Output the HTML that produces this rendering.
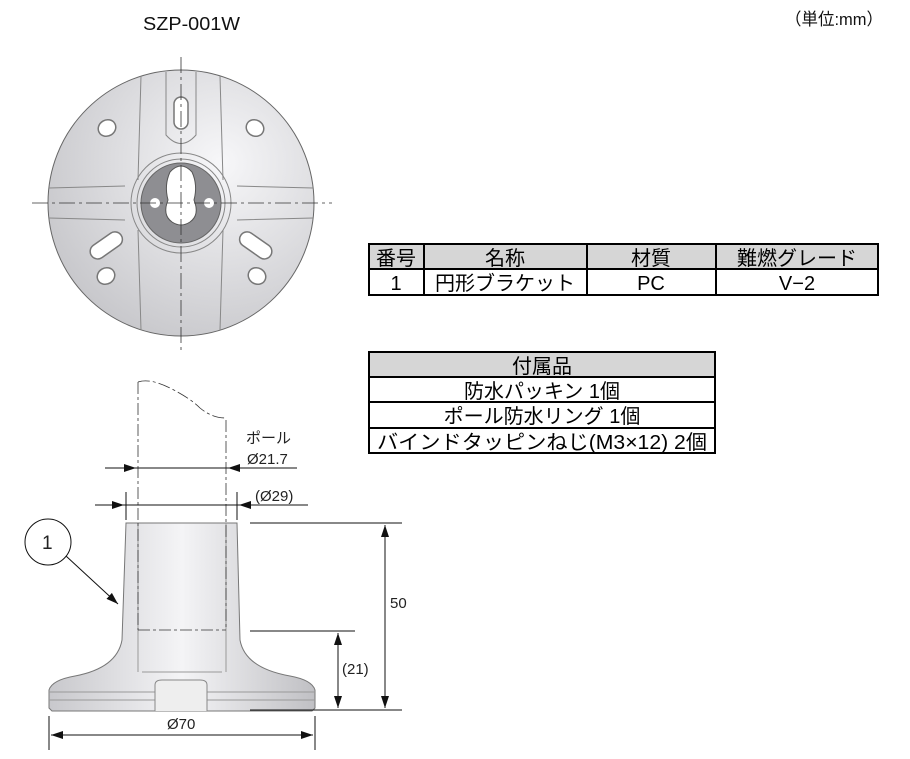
<!DOCTYPE html>
<html><head><meta charset="utf-8"><style>
body{margin:0;background:#fff;width:910px;height:754px;overflow:hidden}
svg text{font-family:"Liberation Sans","Noto Sans CJK JP",sans-serif}
</style></head><body>
<svg width="910" height="754" viewBox="0 0 910 754" xmlns="http://www.w3.org/2000/svg">
<defs>
<radialGradient id="g1" cx="0.65" cy="0.35" r="0.8"><stop offset="0" stop-color="#f7f7f9"/><stop offset="1" stop-color="#c2c2c6"/></radialGradient>
<linearGradient id="g2" x1="0" x2="1"><stop offset="0" stop-color="#c8c8cc"/><stop offset="0.5" stop-color="#f4f4f6"/><stop offset="1" stop-color="#c0c0c4"/></linearGradient>
<marker id="ar" markerWidth="12" markerHeight="8" refX="12" refY="4" orient="auto" markerUnits="userSpaceOnUse"><path d="M0,0L12,4L0,8z" fill="#111"/></marker>
</defs>
<text x="143" y="30" font-size="18" fill="#111" textLength="97" lengthAdjust="spacingAndGlyphs">SZP-001W</text>
<text x="785" y="25" font-size="17" fill="#111" textLength="98" lengthAdjust="spacingAndGlyphs">（単位:mm）</text>

<!-- top view -->
<circle cx="181" cy="203" r="133" fill="url(#g1)" stroke="#666" stroke-width="1"/>
<g fill="none" stroke="#888" stroke-width="1">
<path d="M141,76 L138,180 M220,76 L223,180 M141,330 L138,230 M220,330 L223,230"/>
<path d="M49,188 L125,186 M49,218 L125,220 M313,188 L237,186 M313,218 L237,220"/>
<path d="M166,72 L166,135 Q181,152 196,135 L196,72"/>
<circle cx="181" cy="203" r="50"/><circle cx="181" cy="203" r="44"/>
</g>
<circle cx="181" cy="203" r="40" fill="#8e8e92" stroke="#666"/>
<path d="M170,172 Q181,160 192,172 Q198,185 194,200 Q200,215 190,222 Q181,228 172,222 Q162,215 168,200 Q164,185 170,172z" fill="#fff" stroke="#555"/>
<circle cx="155" cy="203" r="5" fill="#fff"/><circle cx="209" cy="203" r="5" fill="#fff"/>
<g fill="#fff" stroke="#777" stroke-width="1.5">
<rect x="174" y="97" width="14" height="32" rx="7"/>
<ellipse cx="107" cy="128" rx="9" ry="8" transform="rotate(-30 107 128)"/>
<ellipse cx="255" cy="128" rx="9" ry="8" transform="rotate(30 255 128)"/>
<rect x="88" y="238" width="36" height="15" rx="7.5" transform="rotate(-35 106 245)"/>
<rect x="238" y="238" width="36" height="15" rx="7.5" transform="rotate(35 256 245)"/>
<ellipse cx="106" cy="276" rx="9" ry="8" transform="rotate(-30 106 276)"/>
<ellipse cx="257" cy="276" rx="9" ry="8" transform="rotate(30 257 276)"/>
</g>
<g stroke="#333" stroke-width="0.8" stroke-dasharray="16,4,3,4" fill="none">
<path d="M32,203 L332,203 M181,57 L181,350"/>
</g>

<!-- table 1 -->
<g font-size="20" fill="#000" text-anchor="middle">
<rect x="369" y="244" width="509" height="25" fill="#d6d6d6"/>
<rect x="369" y="244" width="509" height="51" fill="none" stroke="#000" stroke-width="2"/>
<path d="M369,269H878M424,244V295M587,244V295M716,244V295" stroke="#000" stroke-width="2"/>
<text x="396" y="265">番号</text><text x="505" y="265">名称</text><text x="651" y="265">材質</text><text x="797" y="265">難燃グレード</text>
<text x="396" y="290">1</text><text x="505" y="290">円形ブラケット</text><text x="651" y="290">PC</text><text x="797" y="290">V−2</text>
<!-- table 2 -->
<rect x="369" y="352" width="346" height="25" fill="#d6d6d6"/>
<rect x="369" y="352" width="346" height="101" fill="none" stroke="#000" stroke-width="2"/>
<path d="M369,377H715M369,402H715M369,428H715" stroke="#000" stroke-width="2"/>
<text x="542" y="373">付属品</text><text x="542" y="398">防水パッキン 1個</text><text x="542" y="423">ポール防水リング 1個</text><text x="542" y="449" textLength="330" lengthAdjust="spacingAndGlyphs">バインドタッピンねじ(M3×12) 2個</text>
</g>

<!-- side view -->
<path d="M126,523 L237,523 L240,640 Q245,668 290,676 Q312,680 315,690 L315,708 L312,711 L52,711 L49,708 L49,690 Q52,680 75,676 Q117,668 122,640 Z" fill="url(#g2)" stroke="#777"/>
<path d="M49,692H315M49,700H315M138,523V672M226,523V672M142,672H222" stroke="#999" fill="none"/>
<path d="M155,711V685Q155,680 162,680H200Q207,680 207,685V711" fill="#eee" stroke="#888"/>
<g stroke="#333" stroke-width="0.8" stroke-dasharray="12,3,3,3" fill="none">
<path d="M138,382V630M226,420V630M138,630H226"/>
<path d="M138,382 Q150,378 170,388 Q190,398 200,408 Q212,418 226,418"/>
</g>
<g stroke="#111" stroke-width="1" fill="none">
<path d="M105,468H136" marker-end="url(#ar)"/><path d="M297,468H228" marker-end="url(#ar)"/><path d="M136,468H228"/>
<path d="M95,505H124" marker-end="url(#ar)"/><path d="M308,505H239" marker-end="url(#ar)"/><path d="M124,505H239"/>
<path d="M126,492V520M237,492V520"/>
<path d="M250,523H402M250,710H402M250,631H355M49,716V750M315,716V750"/>
<path d="M385,600V525" marker-end="url(#ar)"/><path d="M385,600V708" marker-end="url(#ar)"/>
<path d="M338,670V633" marker-end="url(#ar)"/><path d="M338,670V708" marker-end="url(#ar)"/>
<path d="M180,735H51" marker-end="url(#ar)"/><path d="M180,735H313" marker-end="url(#ar)"/>
<circle cx="48" cy="542" r="23"/>
<path d="M66,556L118,604" marker-end="url(#ar)"/>
</g>
<g font-size="15" fill="#222">
<text x="246" y="443">ポール</text><text x="247" y="464">Ø21.7</text>
<text x="255" y="501">(Ø29)</text>
<text x="390" y="608">50</text><text x="342" y="674">(21)</text>
<text x="167" y="729">Ø70</text>
<text x="42" y="549" font-size="19">1</text>
</g>
</svg>
</body></html>
